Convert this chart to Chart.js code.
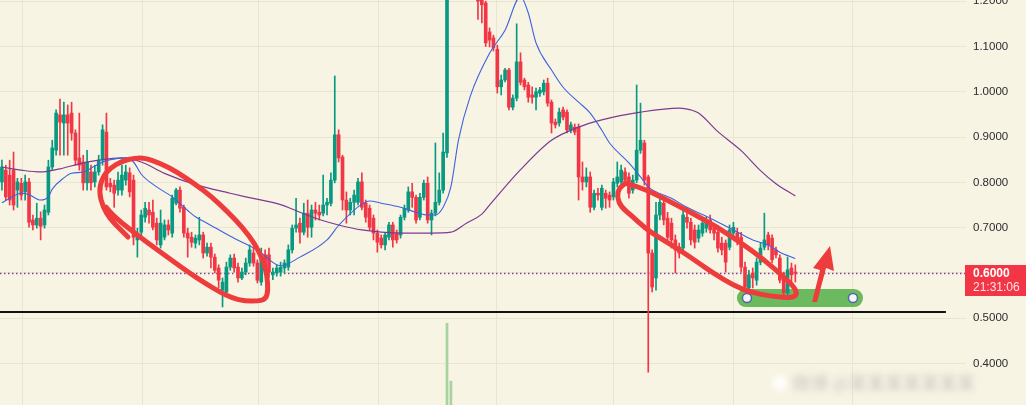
<!DOCTYPE html>
<html><head><meta charset="utf-8">
<script src="https://cdn.jsdelivr.net/npm/chart.js@4.4.1/dist/chart.umd.min.js"></script>
<style>html,body{margin:0;padding:0;background:#f8f4e4;overflow:hidden}
#wrap{position:relative;width:1026px;height:405px}</style>
</head><body><div id="wrap"><canvas id="c"></canvas></div>
<script>
// ---- candle data (index = candle number, values = price) ----
const opens=[.801,.827,.816,.827,.783,.798,.779,.801,.717,.706,
.721,.706,.734,.834,.871,.949,.931,.949,.953,.909,
.854,.845,.799,.823,.801,.823,.849,.911,.798,.794,
.783,.783,.805,.821,.805,.673,.690,.723,.739,.734,
.710,.662,.679,.706,.688,.754,.783,.745,.688,.679,
.666,.673,.684,.644,.657,.635,.611,.562,.558,.613,
.633,.613,.589,.602,.622,.644,.622,.580,.640,.640,
.596,.600,.602,.611,.613,.651,.699,.710,.690,.732,
.701,.739,.734,.732,.750,.754,.805,.905,.856,.761,
.739,.756,.756,.801,.754,.743,.721,.688,.677,.662,
.679,.706,.688,.684,.723,.739,.779,.767,.723,.767,
.798,.717,.732,.756,.783,.865,1.30,1.36,1.33,1.38,
1.31,1.28,1.25,1.24,1.215,1.196,1.132,1.119,1.094,1.011,
1.026,1.048,.966,.986,1.066,1.026,1.015,.993,.988,.997,
1.0,1.019,.977,.933,.931,.960,.955,.916,.922,.922,
.812,.801,.812,.745,.776,.745,.776,.772,.768,.798,
.801,.823,.812,.783,.805,.871,.887,.812,.644,.589,
.728,.754,.721,.710,.673,.657,.655,.723,.712,.695,
.677,.688,.699,.717,.699,.690,.666,.666,.657,.688,
.688,.679,.613,.567,.600,.584,.624,.657,.684,.677,
.651,.633,.591,.556,.611,.602];
const highs=[.849,.838,.849,.867,.809,.809,.816,.809,.728,.754,
.735,.750,.849,.893,.960,.984,.977,.971,.977,.916,
.953,.860,.871,.838,.838,.860,.927,.953,.809,.805,
.823,.838,.838,.832,.816,.699,.739,.756,.756,.761,
.721,.739,.717,.717,.772,.787,.790,.750,.699,.690,
.684,.723,.690,.666,.666,.642,.618,.589,.624,.640,
.642,.622,.611,.633,.662,.655,.629,.655,.651,.655,
.611,.618,.624,.629,.662,.706,.765,.721,.754,.761,
.750,.756,.750,.816,.765,.821,1.035,.916,.860,.779,
.765,.783,.809,.821,.761,.750,.728,.695,.684,.690,
.712,.712,.695,.728,.750,.790,.798,.772,.776,.805,
.812,.739,.887,.821,.909,1.35,1.40,1.41,1.43,1.40,
1.35,1.31,1.28,1.26,1.23,1.20,1.141,1.125,1.103,1.037,
1.052,1.052,.993,1.150,1.086,1.03,1.021,1.011,1.008,1.01,
1.026,1.030,.982,.94,.964,.966,.960,.933,.929,.929,
.845,.832,.823,.783,.787,.794,.783,.779,.809,.845,
.838,.832,.821,.816,1.015,.975,.893,.816,.651,.756,
.765,.761,.734,.721,.684,.666,.739,.734,.721,.706,
.706,.721,.723,.728,.706,.699,.679,.673,.706,.712,
.699,.690,.624,.606,.611,.633,.666,.732,.690,.684,
.657,.640,.602,.635,.622,.618];
const lows=[.783,.761,.750,.739,.745,.761,.761,.701,.695,.699,
.673,.699,.728,.827,.860,.860,.860,.860,.893,.838,
.827,.783,.783,.783,.790,.816,.838,.783,.779,.745,
.772,.772,.794,.768,.662,.635,.679,.712,.710,.695,
.662,.655,.673,.684,.679,.750,.734,.679,.635,.657,
.655,.662,.633,.637,.611,.600,.567,.525,.551,.606,
.602,.580,.585,.596,.615,.615,.578,.573,.606,.591,
.585,.593,.593,.600,.606,.644,.690,.666,.684,.679,
.679,.717,.717,.726,.728,.748,.799,.845,.739,.710,
.728,.728,.750,.739,.712,.695,.673,.646,.655,.651,
.673,.657,.666,.677,.717,.734,.745,.710,.717,.761,
.710,.684,.726,.750,.776,.855,1.27,1.29,1.30,1.27,
1.24,1.22,1.215,1.16,1.152,1.10,1.099,1.09,.997,.993,
1.022,.960,.960,.980,1.015,1.004,.977,.975,.960,.99,
.993,.968,.909,.92,.924,.938,.909,.909,.905,.761,
.783,.790,.734,.739,.761,.739,.743,.745,.761,.790,
.794,.798,.765,.776,.799,.864,.794,.381,.558,.562,
.717,.706,.673,.655,.600,.633,.651,.699,.662,.655,
.668,.681,.690,.688,.673,.646,.640,.602,.651,.677,
.662,.602,.558,.556,.567,.573,.618,.651,.651,.622,
.633,.578,.549,.549,.578,.580];
const closes=[.834,.768,.761,.750,.801,.772,.801,.712,.706,.721,
.703,.739,.834,.876,.953,.933,.949,.931,.909,.849,
.838,.799,.845,.799,.823,.849,.916,.790,.790,.776,
.805,.816,.823,.779,.679,.688,.728,.743,.728,.701,
.673,.710,.706,.695,.765,.783,.743,.688,.677,.668,
.677,.684,.644,.657,.635,.606,.584,.580,.613,.633,
.611,.589,.602,.622,.651,.622,.584,.635,.611,.602,
.602,.611,.613,.622,.651,.699,.706,.690,.732,.701,
.739,.732,.728,.750,.756,.805,.905,.854,.761,.739,
.756,.772,.801,.745,.723,.701,.688,.668,.662,.684,
.706,.673,.673,.723,.743,.779,.767,.717,.767,.798,
.717,.732,.756,.783,.867,1.30,1.36,1.33,1.38,1.31,
1.28,1.25,1.23,1.20,1.192,1.108,1.114,1.097,1.011,1.026,
1.048,.966,.986,1.066,1.021,1.011,.988,.988,1.0,1.004,
1.019,.975,.931,.927,.955,.944,.916,.927,.911,.812,
.801,.812,.745,.776,.772,.787,.765,.761,.801,.812,
.827,.805,.776,.805,.871,.893,.805,.644,.569,.728,
.756,.717,.679,.673,.651,.644,.728,.712,.673,.668,
.695,.710,.712,.695,.688,.655,.651,.624,.695,.701,
.673,.613,.569,.596,.589,.624,.655,.673,.662,.629,
.640,.584,.556,.607,.596,.600];

// moving averages: [candle index, price]
const maShort=[[0,.755],[2,.765],[5,.776],[7,.773],[10,.761],[12,.768],[13,.785],[16,.810],[18,.820],[21,.823],[24,.836],[26,.845],[30,.853],[32,.854],[34,.845],[36,.818],[40,.790],[44,.768],[48,.738],[50,.724],[53,.710],[59,.681],[66,.651],[72,.616],[77,.635],[84,.673],[87,.705],[93,.752],[95,.759],[98,.754],[103,.745],[107,.734],[110,.728],[112,.728],[114,.745],[116,.790],[118,.895],[121,.990],[126,1.085],[130,1.136],[134,1.210],[136,1.174],[138,1.108],[142,1.048],[145,1.010],[149,.977],[152,.953],[155,.915],[157,.887],[162,.843],[165,.812],[167,.790],[173,.765],[177,.745],[183,.721],[189,.695],[194,.673],[198,.662],[201,.646],[205,.632]];
const maLong=[[0,.834],[5,.827],[10,.823],[15,.830],[20,.841],[25,.849],[31,.854],[36,.845],[42,.820],[50,.795],[59,.776],[63,.768],[72,.751],[77,.734],[82,.718],[87,.706],[93,.695],[100,.689],[106,.688],[111,.688],[116,.690],[120,.710],[124,.730],[126,.750],[134,.828],[142,.893],[149,.922],[155,.938],[165,.955],[175,.964],[178,.960],[180,.953],[185,.912],[191,.870],[196,.826],[200,.797],[205,.770]];

// volume bars that are visible at the bottom
const volIdx=[115,116];
const volVals=[202,59];

// axis ticks
const yTickVals=[0.4,0.5,0.6,0.7,0.8,0.9,1.0,1.1,1.2];
const vGridIdx=[5.4,36.4,66.4,97.4,127.9,157.9,188.9,219.9];
const lastPrice=0.6000, countdown='21:31:06';

// hand-drawn annotations (candle index, price)
const supportPrice=0.5137, supportEnd=243.9;
const loopA=[[32.57,.6793],[30.51,.6970],[27.92,.7190],[26.12,.7456],[25.08,.7787],[25.86,.8096],[27.92,.8317],[31.02,.8471],[34.38,.8538],[36.97,.8538],[40.84,.8427],[45.24,.8228],[49.89,.7963],[54.28,.7676],[58.41,.7345],[62.29,.6992],[65.39,.6638],[67.46,.6285],[68.49,.5954],[68.75,.5623],[68.23,.5424],[66.17,.5380],[62.81,.5380],[59.45,.5446],[56.35,.5579],[52.47,.5777],[48.08,.6020],[43.43,.6307],[38.78,.6594],[34.64,.6859],[31.02,.7102],[28.44,.7301],[26.89,.7456]];
const loopB=[[161.0,.7985],[164.88,.7897],[170.82,.7654],[177.8,.7345],[184.77,.7014],[190.72,.6683],[196.66,.6307],[201.83,.5932],[204.93,.5667],[205.44,.5512],[203.63,.5446],[198.47,.5490],[193.3,.5579],[188.9,.5733],[184.25,.5976],[180.38,.6197],[175.21,.6506],[170.04,.6771],[166.17,.6992],[162.81,.7257],[159.97,.7456],[158.93,.7677],[159.45,.7875],[161.26,.7985]];
const arrowShape=[[213.97,.6594],[215.0,.6042],[212.94,.6109],[210.61,.5358],[209.32,.5358],[211.39,.6064],[209.58,.6109]];
const zone={from:189.9,to:222.5,top:.5645,bottom:.5248,anchors:[192.5,219.9],mid:.5446};

const BG='#f8f4e4', UP='#089981', DOWN='#f23645', GRID='#e9e5d3';
const idx=opens.map((_,i)=>i);
const cColor=idx.map(i=>closes[i]>=opens[i]?UP:DOWN);

function smoothPath(c,pts){
  c.beginPath(); c.moveTo(pts[0][0],pts[0][1]);
  for(let i=1;i<pts.length-1;i++){
    const mx=(pts[i][0]+pts[i+1][0])/2, my=(pts[i][1]+pts[i+1][1])/2;
    c.quadraticCurveTo(pts[i][0],pts[i][1],mx,my);
  }
  const l=pts[pts.length-1]; c.lineTo(l[0],l[1]);
}
const overlay={
  id:'overlay',
  beforeDraw(ch){const c=ch.ctx;c.save();c.fillStyle=BG;c.fillRect(0,0,ch.width,ch.height);c.restore();},
  beforeDatasetsDraw(ch){
    const c=ch.ctx,X=v=>ch.scales.x.getPixelForValue(v),Y=v=>ch.scales.y.getPixelForValue(v),a=ch.chartArea;
    c.save();
    // dotted last price line
    c.strokeStyle='#8a3f98';c.lineWidth=1.5;c.setLineDash([1.5,2.5]);
    c.beginPath();c.moveTo(a.left,Math.round(Y(lastPrice))+0.5);c.lineTo(a.right,Math.round(Y(lastPrice))+0.5);c.stroke();
    c.setLineDash([]);
    // support line
    c.strokeStyle='#111';c.lineWidth=2;
    c.beginPath();c.moveTo(a.left,Y(supportPrice));c.lineTo(X(supportEnd),Y(supportPrice));c.stroke();
    // green zone
    const x0=X(zone.from),x1=X(zone.to),y0=Y(zone.top),y1=Y(zone.bottom),r=(y1-y0)/2;
    c.fillStyle='#6cba5e';
    c.beginPath();c.moveTo(x0+r,y0);c.lineTo(x1-r,y0);c.arc(x1-r,y0+r,r,-Math.PI/2,Math.PI/2);
    c.lineTo(x0+r,y1);c.arc(x0+r,y0+r,r,Math.PI/2,Math.PI*1.5);c.closePath();c.fill();
    zone.anchors.forEach(v=>{c.beginPath();c.arc(X(v),Y(zone.mid),4.5,0,Math.PI*2);c.fillStyle='#f4f6fb';c.fill();
      c.strokeStyle='#5565a8';c.lineWidth=1.5;c.stroke();});
    c.restore();
  },
  afterDatasetsDraw(ch){
    const c=ch.ctx,X=v=>ch.scales.x.getPixelForValue(v),Y=v=>ch.scales.y.getPixelForValue(v);
    c.save();
    c.strokeStyle='#ee3c3c';c.lineWidth=5;c.lineCap='round';c.lineJoin='round';
    [loopA,loopB].forEach(L=>{smoothPath(c,L.map(p=>[X(p[0]),Y(p[1])]));c.stroke();});
    c.fillStyle='#ee3c3c';c.beginPath();
    arrowShape.forEach((p,k)=>{k?c.lineTo(X(p[0]),Y(p[1])):c.moveTo(X(p[0]),Y(p[1]));});
    c.closePath();c.fill();
    c.restore();
  },
  afterDraw(ch){
    const c=ch.ctx,Y=v=>ch.scales.y.getPixelForValue(v),a=ch.chartArea;
    c.save();
    const py=Y(lastPrice);
    c.fillStyle='#f23645';c.fillRect(a.right-1,py-8,ch.width-a.right+1,31);
    c.fillStyle='#ffffff';c.font='bold 12px "Liberation Sans", Arial, sans-serif';c.textBaseline='middle';
    c.fillText(lastPrice.toFixed(4),a.right+7,py+1);
    c.font='12px "Liberation Sans", Arial, sans-serif';
    c.fillStyle='#fde3e6';c.fillText(countdown,a.right+7,py+15);
    // blurred watermark
    c.filter='blur(3px)';
    c.fillStyle='#ffffff';c.beginPath();c.arc(780,383,7,0,Math.PI*2);c.fill();
    c.fillStyle='#c9c8c2';c.font='18px "Noto Sans CJK SC", sans-serif';c.textBaseline='middle';
    c.fillText('微博 @某某某某某某某',792,383,220);
    c.restore();
  }
};

new Chart(document.getElementById('c'),{
  type:'bar',
  data:{datasets:[
    {type:'line',data:maShort.map(p=>({x:p[0],y:p[1]})),borderColor:'#3d62dc',borderWidth:1.1,pointRadius:0,cubicInterpolationMode:'monotone',order:0},
    {type:'line',data:maLong.map(p=>({x:p[0],y:p[1]})),borderColor:'#7c3a93',borderWidth:1.2,pointRadius:0,cubicInterpolationMode:'monotone',order:1},
    {type:'bar',data:idx.map(i=>({x:i,y:[lows[i],highs[i]]})),backgroundColor:cColor,barThickness:1,grouped:false,order:3},
    {type:'bar',data:idx.map(i=>({x:i,y:[opens[i],closes[i]]})),backgroundColor:cColor,barThickness:3,minBarLength:1,grouped:false,order:2},
    {type:'bar',data:volIdx.map((x,k)=>({x,y:volVals[k]})),backgroundColor:'#a6d39e',barThickness:2,grouped:false,yAxisID:'yv',order:4}
  ]},
  options:{
    responsive:true,maintainAspectRatio:false,animation:false,devicePixelRatio:1,
    layout:{padding:0},
    plugins:{legend:{display:false},tooltip:{enabled:false}},
    scales:{
      x:{type:'linear',min:-0.5,max:249.1,offset:false,
        grid:{color:GRID,drawTicks:false,offset:false},border:{display:false},ticks:{display:false},
        afterBuildTicks:s=>{s.ticks=vGridIdx.map(v=>({value:v}));},
        afterFit:s=>{s.height=0;s.paddingLeft=0;s.paddingRight=0;}},
      y:{type:'linear',position:'right',min:0.3086,max:1.2026,
        grid:{color:GRID,drawTicks:false},border:{display:false},
        ticks:{padding:7,color:'#2b2b30',font:{family:'"Liberation Sans", Arial, sans-serif',size:11.5},callback:v=>Number(v).toFixed(4)},
        afterBuildTicks:s=>{s.ticks=yTickVals.map(v=>({value:v}));},
        afterFit:s=>{s.width=60;s.paddingTop=0;s.paddingBottom=0;}},
      yv:{type:'linear',display:false,min:0,max:1000}
    }
  },
  plugins:[overlay]
});
</script></body></html>
